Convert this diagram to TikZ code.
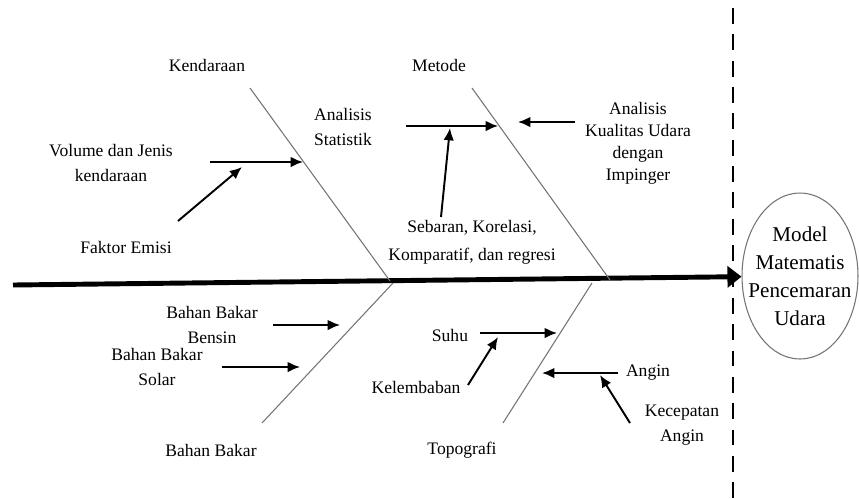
\documentclass[tikz,border=0pt]{standalone}
\usepackage{fontspec}
\setmainfont{Liberation Serif}
\usetikzlibrary{arrows.meta, shapes.geometric}

\tikzset{
    lbl/.style={align=center, inner sep=0pt, font=\fontsize{10}{14}\selectfont},
    bone/.style={black!55, line width=0.6pt},
    arr/.style={line width=1.1pt, -{Latex[length=7pt,width=6pt]}}
}

\begin{document}
\begin{tikzpicture}[x=0.02cm, y=-0.02cm]
    \useasboundingbox (0,0) rectangle (859,498);

    % Effect (head of the fish)
    \node[ellipse, draw=black!55, line width=0.6pt, minimum width=2.32cm, minimum height=3.32cm] (model) at (800,276) {};
    \node[lbl, font=\fontsize{12}{16}\selectfont] (modeltxt) at (model) {Model\\Matematis\\Pencemaran\\Udara};

    % Dashed divider
    \coordinate (divT) at (733,8);
    \coordinate (divB) at (733,498);
    \draw[line width=1.6pt, dash pattern=on 9pt off 6pt] (divT) -- (divB);

    % Spine
    \coordinate (tail) at (13,285);
    \draw[line width=2.8pt, -{Triangle[length=8pt,width=12pt]}] (tail) -- (model);

    % Bones
    \node[lbl] (kend) at (207,65) {Kendaraan};
    \coordinate (kendT) at (250,88);
    \coordinate (kendB) at (390,281);
    \draw[bone] (kendT) -- (kendB);

    \node[lbl] (metode) at (439,65) {Metode};
    \coordinate (metT) at (472,88);
    \coordinate (metB) at (610,280);
    \draw[bone] (metT) -- (metB);

    \node[lbl] (bb) at (211,450) {Bahan Bakar};
    \coordinate (bbT) at (393,283);
    \coordinate (bbB) at (262,423);
    \draw[bone] (bbT) -- (bbB);

    \node[lbl] (topo) at (462,450) {Topografi};
    \coordinate (topT) at (592,283);
    \coordinate (topB) at (503,423);
    \draw[bone] (topT) -- (topB);

    % Kendaraan causes
    \node[lbl] (vol) at (111,163) {Volume dan Jenis\\kendaraan};
    \coordinate (volS) at (210,162);
    \coordinate (volE) at (303,162);
    \draw[arr] (volS) -- (volE);

    \node[lbl] (faktor) at (126,247) {Faktor Emisi};
    \coordinate (fakS) at (178,221);
    \coordinate (fakE) at (242,167);
    \draw[arr] (fakS) -- (fakE);

    % Metode causes
    \node[lbl] (stat) at (343,127) {Analisis\\Statistik};
    \coordinate (statS) at (406,126);
    \coordinate (statE) at (498,126);
    \draw[arr] (statS) -- (statE);

    \node[lbl, font=\fontsize{10}{16}\selectfont] (seb) at (472,242) {Sebaran, Korelasi,\\Komparatif, dan regresi};
    \coordinate (sebS) at (441,217);
    \coordinate (sebE) at (450,128);
    \draw[arr] (sebS) -- (sebE);

    \node[lbl, font=\fontsize{10}{12.5}\selectfont] (kual) at (638,143) {Analisis\\Kualitas Udara\\dengan\\Impinger};
    \coordinate (kualS) at (575,122);
    \coordinate (kualE) at (518,122);
    \draw[arr] (kualS) -- (kualE);

    % Bahan Bakar causes
    \node[lbl] (bensin) at (212,325) {Bahan Bakar\\Bensin};
    \coordinate (bensS) at (273,325);
    \coordinate (bensE) at (340,325);
    \draw[arr] (bensS) -- (bensE);

    \node[lbl] (solar) at (157,367) {Bahan Bakar\\Solar};
    \coordinate (solS) at (222,367);
    \coordinate (solE) at (300,367);
    \draw[arr] (solS) -- (solE);

    % Topografi causes
    \node[lbl] (suhu) at (450,335) {Suhu};
    \coordinate (suhS) at (480,333);
    \coordinate (suhE) at (557,333);
    \draw[arr] (suhS) -- (suhE);

    \node[lbl] (kelem) at (416,387) {Kelembaban};
    \coordinate (kelS) at (468,385);
    \coordinate (kelE) at (498,337);
    \draw[arr] (kelS) -- (kelE);

    \node[lbl] (angin) at (648,373) {Angin};
    \coordinate (angS) at (618,373);
    \coordinate (angE) at (542,373);
    \draw[arr] (angS) -- (angE);

    \node[lbl] (kec) at (682,425) {Kecepatan\\Angin};
    \coordinate (kecS) at (630,423);
    \coordinate (kecE) at (600,375);
    \draw[arr] (kecS) -- (kecE);
\end{tikzpicture}
\end{document}
